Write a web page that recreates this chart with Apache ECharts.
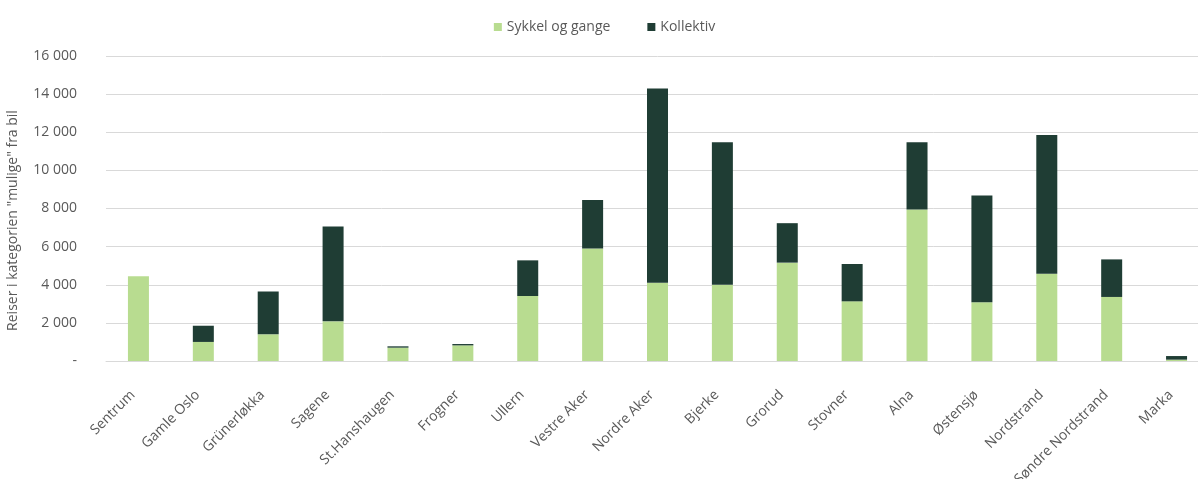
<!DOCTYPE html>
<html>
<head>
<meta charset="utf-8">
<script src="https://cdn.jsdelivr.net/npm/echarts@6/dist/echarts.min.js"></script>
<style>
  html, body { margin: 0; padding: 0; background: #fff; overflow: hidden; width: 1198px; height: 479px; }
  /* the plot area runs slightly past the right edge of the page */
  #chart { width: 1209px; height: 479px; }
</style>
</head>
<body>
<div id="chart"></div>
<script>
// Bydeler i Oslo
const categories = ['Sentrum', 'Gamle Oslo', 'Grünerløkka', 'Sagene', 'St.Hanshaugen', 'Frogner', 'Ullern',
  'Vestre Aker', 'Nordre Aker', 'Bjerke', 'Grorud', 'Stovner', 'Alna', 'Østensjø', 'Nordstrand',
  'Søndre Nordstrand', 'Marka'];

// Reiser som kan flyttes fra bil, per transportform
const sykkelOgGange = [4450, 1000, 1400, 2080, 700, 820, 3410, 5900, 4110, 4000, 5160, 3130, 7950, 3080, 4580, 3360, 70];
const kollektiv = [0, 850, 2250, 4970, 70, 70, 1870, 2550, 10190, 7470, 2070, 1960, 3520, 5600, 7280, 1970, 190];

const yTicks = { min: 0, max: 16000, interval: 2000 };

const font = '"Open Sans", sans-serif';
const textColor = '#595959';

function fmt(v) {
  if (v === 0) return '-';
  return String(v).replace(/\B(?=(\d{3})+(?!\d))/g, ' ');
}

const chart = echarts.init(document.getElementById('chart'));
chart.setOption({
  animation: false,
  textStyle: { fontFamily: font },
  legend: {
    top: 15,
    left: 'center',
    itemWidth: 8,
    itemHeight: 8,
    itemGap: 37,
    icon: 'rect',
    textStyle: { color: textColor, fontSize: 14, fontFamily: font },
    data: ['Sykkel og gange', 'Kollektiv']
  },
  grid: { left: 106, right: 0, top: 56, bottom: 118, containLabel: false, outerBoundsMode: 'none' },
  xAxis: {
    type: 'category',
    data: categories,
    axisLine: { lineStyle: { color: '#d9d9d9', width: 1 } },
    axisTick: { show: false },
    axisLabel: {
      rotate: 45,
      interval: 0,
      margin: 26,
      padding: [0, 8, 0, 0],
      color: textColor,
      fontSize: 14,
      fontFamily: font
    }
  },
  yAxis: {
    type: 'value',
    min: yTicks.min,
    max: yTicks.max,
    interval: yTicks.interval,
    name: 'Reiser i kategorien "mulige" fra bil',
    nameLocation: 'middle',
    nameGap: 86,
    nameTextStyle: { color: textColor, fontSize: 14, fontFamily: font, padding: [0, 24, 0, 0] },
    axisLine: { show: false },
    axisTick: { show: false },
    axisLabel: {
      color: textColor,
      fontSize: 14,
      fontFamily: font,
      margin: 29,
      formatter: fmt
    },
    splitLine: { lineStyle: { color: '#d9d9d9', width: 1 } }
  },
  series: [
    {
      name: 'Sykkel og gange',
      type: 'bar',
      stack: 'total',
      barWidth: 21,
      itemStyle: { color: '#b8dc90' },
      data: sykkelOgGange
    },
    {
      name: 'Kollektiv',
      type: 'bar',
      stack: 'total',
      barWidth: 21,
      itemStyle: { color: '#1f3d34' },
      data: kollektiv
    }
  ]
});
</script>
</body>
</html>
